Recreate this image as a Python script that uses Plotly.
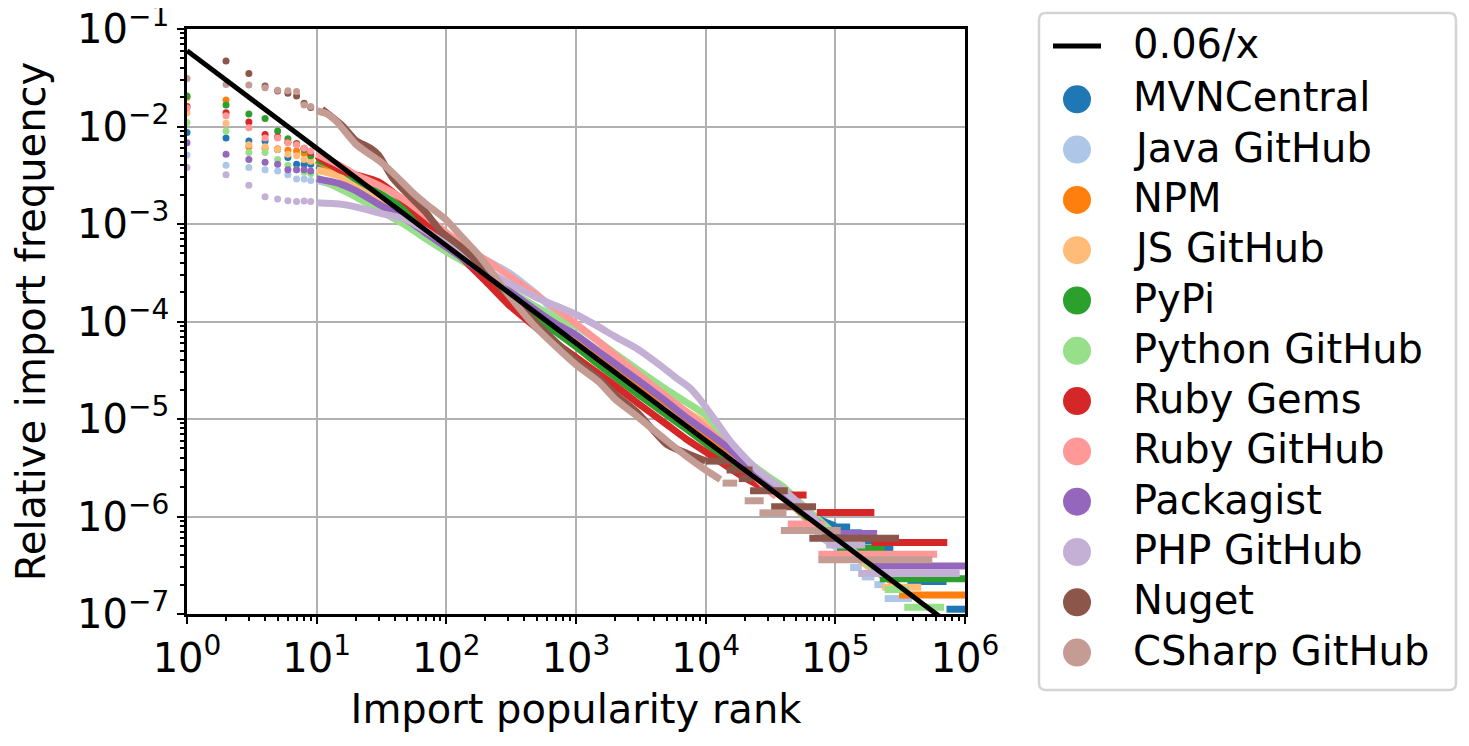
import plotly.graph_objects as go

# rank / relative frequency
mvn_rank = [1, 2, 3, 4, 5, 6, 7, 8, 9, 10, 15, 20, 30, 50, 70, 100, 150, 200, 300, 500, 700, 1000,
            1500, 2000, 3000, 5000, 7000, 10000, 15000, 20000, 30000, 50000, 80000, 100000]
mvn_freq = [0.0087, 0.0076, 0.0071, 0.0071, 0.0058, 0.0048, 0.0041, 0.0041, 0.0041, 0.0040, 0.0033,
            0.0027, 0.0019, 0.00125, 0.0009, 0.00062, 0.00041, 0.00031, 0.0002, 0.000122, 8.8e-5,
            6.3e-5, 4.2e-5, 3.2e-5, 2.1e-5, 1.3e-5, 9.2e-6, 6.4e-6, 4.3e-6, 3.2e-6, 2.1e-6, 1.3e-6,
            9e-7, 8e-7]
mvn_steps = [(1.0e5, 1.3e5, 7.8e-7), (1.3e5, 1.6e5, 6.8e-7), (1.6e5, 2.3e5, 5.6e-7),
             (2.3e5, 2.8e5, 4.6e-7), (2.8e5, 3.6e5, 3.3e-7), (3.6e5, 7.2e5, 2.15e-7),
             (7.2e5, 1.2e6, 1.12e-7)]

javagh_rank = [1, 2, 3, 4, 5, 6, 7, 8, 9, 10, 15, 20, 30, 50, 70, 100, 150, 200, 300, 500, 700, 1000,
               1500, 2000, 3000, 5000, 7000, 10000, 15000, 20000, 30000, 50000, 80000, 110000]
javagh_freq = [0.0051, 0.0040, 0.0038, 0.0036, 0.0035, 0.0032, 0.0029, 0.0029, 0.0028, 0.0028, 0.0024,
               0.0020, 0.0016, 0.0011, 0.00085, 0.00064, 0.00052, 0.00043, 0.00032, 0.00019, 0.00012,
               7e-5, 4.6e-5, 3.5e-5, 2.3e-5, 1.4e-5, 1.0e-5, 6.8e-6, 4.4e-6, 3.2e-6, 2.1e-6, 1.2e-6,
               6.0e-7, 4.5e-7]
javagh_steps = [(1.3e5, 1.6e5, 3.0e-7), (1.6e5, 2.0e5, 2.4e-7), (2.0e5, 2.4e5, 2.0e-7),
                (2.4e5, 3.9e5, 1.44e-7)]

npm_rank = [1, 2, 3, 4, 5, 6, 7, 8, 9, 10, 15, 20, 30, 50, 70, 100, 150, 200, 300, 500, 700, 1000,
            1500, 2000, 3000, 5000, 7000, 10000, 15000, 20000, 30000, 50000, 100000, 200000, 300000]
npm_freq = [0.0200, 0.0187, 0.0062, 0.0060, 0.0059, 0.0057, 0.0056, 0.0053, 0.0050, 0.0045, 0.0034,
            0.0027, 0.0019, 0.00122, 0.00088, 0.00062, 0.00042, 0.00032, 0.00021, 0.000128, 9.2e-5,
            6.6e-5, 4.5e-5, 3.4e-5, 2.3e-5, 1.45e-5, 1.02e-5, 7e-6, 4.6e-6, 3.3e-6, 2.1e-6, 1.2e-6,
            5.6e-7, 2.8e-7, 2.0e-7]
npm_steps = [(3.1e5, 1.2e6, 1.57e-7)]

jsgh_rank = [1, 2, 3, 4, 5, 6, 7, 8, 9, 10, 15, 20, 30, 50, 70, 100, 150, 200, 300, 500, 700, 1000,
             1500, 2000, 3000, 5000, 7000, 10000, 15000, 20000, 30000, 50000, 100000, 200000]
jsgh_freq = [0.0138, 0.0108, 0.0065, 0.0062, 0.0058, 0.0052, 0.0050, 0.0046, 0.0044, 0.0036, 0.0031,
             0.0026, 0.0019, 0.00118, 0.00086, 0.0006, 0.00041, 0.00031, 0.00021, 0.000132, 9.8e-5,
             7.2e-5, 5.0e-5, 3.8e-5, 2.6e-5, 1.6e-5, 1.2e-5, 9e-6, 5.5e-6, 3.9e-6, 2.4e-6, 1.3e-6,
             6e-7, 2.7e-7]
jsgh_steps = [(2.3e5, 4.6e5, 1.88e-7)]

pypi_rank = [1, 2, 3, 4, 5, 6, 7, 8, 9, 10, 15, 20, 30, 50, 70, 100, 150, 200, 300, 500, 700, 1000,
             1500, 2000, 3000, 5000, 7000, 10000, 15000, 20000, 30000, 44000, 60000, 90000]
pypi_freq = [0.0206, 0.0166, 0.0134, 0.0121, 0.0090, 0.0075, 0.0067, 0.0058, 0.0050, 0.0046, 0.0037,
             0.0029, 0.0021, 0.00135, 0.00095, 0.00063, 0.0004, 0.0003, 0.00019, 0.000112, 7.8e-5,
             5.5e-5, 3.6e-5, 2.7e-5, 1.8e-5, 1.1e-5, 8e-6, 5.6e-6, 3.8e-6, 2.9e-6, 2.0e-6, 1.42e-6,
             1.0e-6, 6.5e-7]
pypi_steps = [(1.03e5, 2.4e5, 4.7e-7), (2.2e5, 1.2e6, 2.3e-7)]

pygh_rank = [1, 2, 3, 4, 5, 6, 7, 8, 9, 10, 15, 20, 30, 50, 70, 100, 150, 200, 300, 500, 700, 1000,
             1500, 2000, 3000, 5000, 7000, 10000, 15000, 20000, 30000, 40000, 50000, 100000, 150000,
             220000]
pygh_freq = [0.0110, 0.0090, 0.0054, 0.0054, 0.0046, 0.0040, 0.0036, 0.0034, 0.0033, 0.0030, 0.0023,
             0.0019, 0.0014, 0.00095, 0.00070, 0.00052, 0.00038, 0.0003, 0.00021, 0.00014, 0.00011,
             9e-5, 6.2e-5, 4.7e-5, 3.2e-5, 2.0e-5, 1.5e-5, 1.1e-5, 5.8e-6, 3.9e-6, 2.6e-6, 2.0e-6,
             1.5e-6, 6.5e-7, 4e-7, 2.6e-7]
pygh_steps = [(2.4e5, 3.7e5, 1.78e-7), (3.4e5, 6.9e5, 1.17e-7)]

gems_rank = [1, 2, 3, 4, 5, 6, 7, 8, 9, 10, 15, 20, 30, 50, 70, 100, 150, 200, 300, 500, 700, 1000,
             1500, 2000, 3000, 5000, 7000, 10000, 15000, 20000, 30000, 40000]
gems_freq = [0.0160, 0.0138, 0.0111, 0.0083, 0.0078, 0.0069, 0.0066, 0.0060, 0.0054, 0.0050, 0.0036,
             0.0032, 0.0027, 0.0016, 0.0010, 0.00065, 0.00038, 0.00026, 0.00015, 8.5e-5, 6e-5,
             4.3e-5, 2.9e-5, 2.2e-5, 1.45e-5, 8.8e-6, 6.3e-6, 4.6e-6, 3.2e-6, 2.5e-6, 1.9e-6, 1.7e-6]
gems_steps = [(4.2e4, 6.0e4, 1.66e-6), (7.2e4, 2.0e5, 1.10e-6), (1.9e5, 7.3e5, 5.4e-7)]

rubygh_rank = [1, 2, 3, 4, 5, 6, 7, 8, 9, 10, 15, 20, 30, 50, 70, 100, 150, 200, 300, 500, 700, 1000,
               1500, 2000, 3000, 5000, 7000, 10000, 15000, 20000, 30000, 35000]
rubygh_freq = [0.0155, 0.0129, 0.0097, 0.0076, 0.0076, 0.0068, 0.0065, 0.0060, 0.0056, 0.0052, 0.0040,
               0.0032, 0.0025, 0.0017, 0.0012, 0.00082, 0.00055, 0.00043, 0.0003, 0.000185, 0.000135,
               9.5e-5, 6.2e-5, 4.5e-5, 2.9e-5, 1.7e-5, 1.2e-5, 8.2e-6, 5.0e-6, 3.3e-6, 1.9e-6, 1.6e-6]
rubygh_steps = [(4.3e4, 8.3e4, 8.4e-7), (7.4e4, 6.1e5, 4.1e-7)]

pack_rank = [1, 2, 3, 4, 5, 6, 7, 8, 9, 10, 15, 20, 30, 50, 70, 100, 150, 200, 300, 500, 700, 1000,
             1500, 2000, 3000, 5000, 7000, 10000, 15000, 20000, 30000, 50000, 75000]
pack_freq = [0.0068, 0.0052, 0.0046, 0.0043, 0.0041, 0.0036, 0.0036, 0.0036, 0.0035, 0.0029, 0.0026,
             0.0022, 0.0016, 0.0011, 0.0008, 0.00058, 0.0004, 0.00031, 0.00021, 0.000128, 9.5e-5,
             7.3e-5, 4.9e-5, 3.7e-5, 2.5e-5, 1.5e-5, 1.05e-5, 7.5e-6, 5e-6, 3.6e-6, 2.4e-6, 1.35e-6,
             8.5e-7]
pack_steps = [(8.0e4, 2.1e5, 6.7e-7), (1.9e5, 1.2e6, 3.1e-7)]

phpgh_rank = [1, 2, 3, 4, 5, 6, 7, 8, 9, 10, 15, 20, 30, 50, 70, 100, 150, 200, 300, 500, 700, 1000,
              1500, 2000, 3000, 4400, 6000, 7500, 9000, 12000, 16000, 25000, 40000, 60000, 80000]
phpgh_freq = [0.0038, 0.0032, 0.0025, 0.0019, 0.0018, 0.00173, 0.0017, 0.00172, 0.0017, 0.00165,
              0.0016, 0.0015, 0.0013, 0.0011, 0.00085, 0.00062, 0.00043, 0.00034, 0.00025, 0.000175,
              0.000145, 0.000118, 8.8e-5, 7.0e-5, 5.2e-5, 3.6e-5, 2.6e-5, 2.1e-5, 1.6e-5, 9.5e-6,
              5.6e-6, 3.0e-6, 1.86e-6, 1.15e-6, 7.5e-7]
phpgh_steps = [(8.5e4, 1.7e5, 5.1e-7), (1.5e5, 9.1e5, 2.6e-7)]

nuget_rank = [2, 3, 4, 5, 6, 7, 8, 9, 11, 13, 16, 20, 26, 30, 39, 55, 70, 90, 130, 170, 300, 500, 1000,
              1500, 2000, 3000, 5000, 7000, 10000]
nuget_freq = [0.047, 0.035, 0.026, 0.0231, 0.0219, 0.0205, 0.0173, 0.0157, 0.015, 0.0126, 0.010,
              0.0072, 0.006, 0.0051, 0.0029, 0.0018, 0.0013, 0.00085, 0.00058, 0.00042, 0.00019,
              9.5e-5, 4e-5, 2.6e-5, 1.8e-5, 1.15e-5, 5.5e-6, 4.5e-6, 3.7e-6]
nuget_steps = [(1.0e4, 1.6e4, 3.7e-6), (1.45e4, 2.3e4, 3.0e-6), (1.8e4, 2.3e4, 2.45e-6),
               (2.2e4, 4.3e4, 1.84e-6), (3.2e4, 7.1e4, 1.26e-6), (6.3e4, 3.1e5, 6.0e-7)]

csgh_rank = [1, 2, 3, 4, 5, 6, 7, 8, 9, 10, 12, 14, 17, 20, 25, 30, 40, 55, 70, 100, 130, 180, 300,
             500, 1000, 1500, 2000, 3000, 5000, 7000, 10000, 13000]
csgh_freq = [0.031, 0.027, 0.0266, 0.025, 0.0236, 0.0232, 0.0228, 0.0166, 0.016, 0.0145, 0.0135,
             0.0115, 0.0085, 0.0066, 0.0053, 0.0045, 0.0032, 0.0021, 0.0016, 0.0011, 0.00075, 0.00047,
             0.00019, 8.5e-5, 3.6e-5, 2.4e-5, 1.6e-5, 1.05e-5, 6e-6, 4.2e-6, 3e-6, 2.4e-6]
csgh_steps = [(1.35e4, 1.75e4, 2.2e-6), (2.0e4, 2.8e4, 1.45e-6), (2.6e4, 4.2e4, 1.09e-6),
              (3.8e4, 1.1e5, 7.2e-7), (7.4e4, 5.6e5, 3.6e-7)]

fit_coef = 0.06
fit_rank = [1, 1e6]

series = [
    ('MVNCentral', '#1f77b4', mvn_rank, mvn_freq, mvn_steps),
    ('Java GitHub', '#aec7e8', javagh_rank, javagh_freq, javagh_steps),
    ('NPM', '#ff7f0e', npm_rank, npm_freq, npm_steps),
    ('JS GitHub', '#ffbb78', jsgh_rank, jsgh_freq, jsgh_steps),
    ('PyPi', '#2ca02c', pypi_rank, pypi_freq, pypi_steps),
    ('Python GitHub', '#98df8a', pygh_rank, pygh_freq, pygh_steps),
    ('Ruby Gems', '#d62728', gems_rank, gems_freq, gems_steps),
    ('Ruby GitHub', '#ff9896', rubygh_rank, rubygh_freq, rubygh_steps),
    ('Packagist', '#9467bd', pack_rank, pack_freq, pack_steps),
    ('PHP GitHub', '#c5b0d5', phpgh_rank, phpgh_freq, phpgh_steps),
    ('Nuget', '#8c564b', nuget_rank, nuget_freq, nuget_steps),
    ('CSharp GitHub', '#c49c94', csgh_rank, csgh_freq, csgh_steps),
]

FONT = 'DejaVu Sans'
OFF = 8                      # the page puts the figure 8px in from the corner
W, H = 1469 - OFF, 746 - OFF
L, T = 187 - OFF, 29 - OFF
PW, PH = 778, 585            # plot area in px
R, B = W - L - PW, H - T - PH
BAND = 7

fig = go.Figure()

for name, color, rank, freq, steps in series:
    head = [(r, f) for r, f in zip(rank, freq) if r < 10]
    body = [(r, f) for r, f in zip(rank, freq) if r >= 10]
    fig.add_trace(go.Scatter(x=[p[0] for p in head], y=[p[1] for p in head], mode='markers',
                             marker=dict(color=color, size=7), name=name, legendgroup=name,
                             showlegend=False))
    fig.add_trace(go.Scatter(x=[p[0] for p in body], y=[p[1] for p in body], mode='lines',
                             line=dict(color=color, width=BAND, shape='spline', smoothing=0.6),
                             name=name, legendgroup=name, showlegend=False))
    sx, sy = [], []
    for x0, x1, y in steps:
        sx += [x0, x1, None]
        sy += [y, y, None]
    fig.add_trace(go.Scatter(x=sx, y=sy, mode='lines', line=dict(color=color, width=BAND),
                             name=name, legendgroup=name, showlegend=False, connectgaps=False))

fig.add_trace(go.Scatter(x=fit_rank, y=[fit_coef / r for r in fit_rank], mode='lines',
                         line=dict(color='black', width=5), name='0.06/x', showlegend=False))

# legend drawn by hand so the symbols can be as large as in the original
# (positions given in screen px of the reference)
def px(x):
    return (x - OFF - L) / PW

def py(y):
    return (T + PH - (y - OFF)) / PH

shapes = []
annotations = []
bx0, bx1, by0, by1 = px(1039), px(1456), py(690), py(13)
rx, ry = 7 / PW, 7 / PH
shapes.append(dict(
    type='path', xref='paper', yref='paper', layer='above',
    path=(f'M {bx0 + rx},{by0} L {bx1 - rx},{by0} Q {bx1},{by0} {bx1},{by0 + ry} '
          f'L {bx1},{by1 - ry} Q {bx1},{by1} {bx1 - rx},{by1} L {bx0 + rx},{by1} '
          f'Q {bx0},{by1} {bx0},{by1 - ry} L {bx0},{by0 + ry} Q {bx0},{by0} {bx0 + rx},{by0} Z'),
    line=dict(color='#d4d4d4', width=2.5), fillcolor='white'))

labels = ['0.06/x'] + [s[0] for s in series]
for i, lab in enumerate(labels):
    yc = 46 if i == 0 else 99.3 + 50.3 * (i - 1)
    if i == 0:
        shapes.append(dict(type='line', xref='paper', yref='paper', layer='above',
                           x0=px(1053), x1=px(1101), y0=py(yc), y1=py(yc),
                           line=dict(color='black', width=5)))
    else:
        shapes.append(dict(type='circle', xref='paper', yref='paper', layer='above',
                           xsizemode='pixel', ysizemode='pixel',
                           xanchor=px(1077), yanchor=py(yc), x0=-14, x1=14, y0=-14, y1=14,
                           fillcolor=series[i - 1][1], line=dict(width=0)))
    annotations.append(dict(text=lab, xref='paper', yref='paper', x=px(1131), y=py(yc - 2),
                            xanchor='left', yanchor='middle', showarrow=False,
                            font=dict(family=FONT, size=40, color='black')))

xt = [10 ** k for k in range(0, 7)]
yt = [10.0 ** k for k in range(-7, 0)]
xminor = [m * 10 ** k for k in range(0, 6) for m in range(2, 10)]
yminor = [m * 10.0 ** k for k in range(-7, -1) for m in range(2, 10)]

axis_common = dict(type='log', showline=True, linecolor='black', linewidth=2.5, mirror=True,
                   ticks='outside', ticklen=7, tickwidth=2, tickcolor='black', automargin=False,
                   ticklabeloverflow='allow',
                   showgrid=True, gridcolor='#b0b0b0', gridwidth=2, zeroline=False,
                   tickfont=dict(family=FONT, size=40, color='black'))

fig.update_layout(
    width=W, height=H,
    margin=dict(l=L, r=R, t=T, b=B),
    paper_bgcolor='white', plot_bgcolor='white',
    font=dict(family=FONT, size=40, color='black'),
    showlegend=False,
    shapes=shapes,
    annotations=annotations,
    xaxis=dict(range=[0, 6], tickvals=xt, ticktext=[f'10<sup>{k}</sup>' for k in range(0, 7)],
               minor=dict(ticks='outside', ticklen=4, tickwidth=1.5, tickcolor='black',
                          tickvals=xminor, showgrid=False),
               title=dict(text='Import popularity rank', font=dict(family=FONT, size=40),
                          standoff=16),
               **axis_common),
    yaxis=dict(range=[-7, -1], tickvals=yt,
               ticktext=[f'10<sup>\u2212{-k}</sup>' for k in range(-7, 0)],
               minor=dict(ticks='outside', ticklen=4, tickwidth=1.5, tickcolor='black',
                          tickvals=yminor, showgrid=False),
               title=dict(text='Relative import frequency', font=dict(family=FONT, size=40),
                          standoff=23),
               **axis_common),
)

fig.write_html('out.html')
